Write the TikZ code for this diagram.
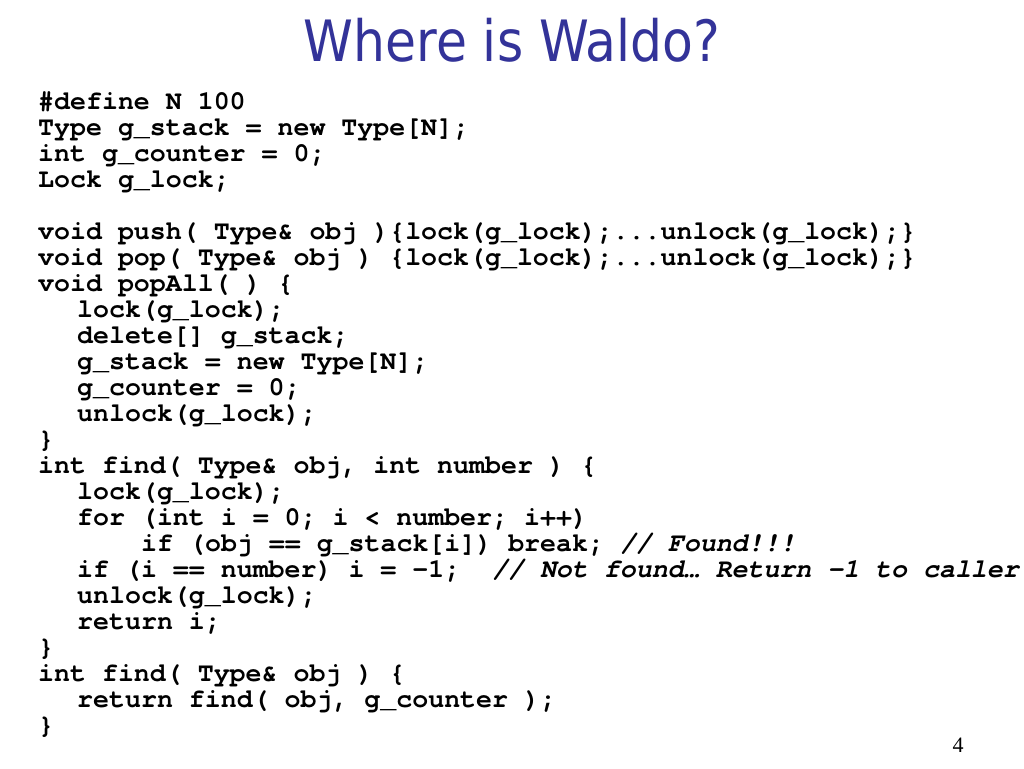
\documentclass[tikz,border=0pt]{standalone}
\usepackage{fontspec}
\newfontfamily\codefont[Ligatures={NoCommon}]{TeX Gyre Cursor}
\newfontfamily\titlefont{DejaVu Sans}
\newfontfamily\numfont{Liberation Serif}
\definecolor{titleblue}{RGB}{51,51,153}
\tikzset{
  code/.style={anchor=base west,inner sep=0pt,font=\codefont\bfseries\fontsize{26.6}{26.6}\selectfont},
  slidetitle/.style={anchor=base,inner sep=0pt,text=titleblue,font=\titlefont\fontsize{57}{57}\selectfont},
  pagenum/.style={anchor=base,inner sep=0pt,font=\numfont\fontsize{22}{22}\selectfont}
}
\begin{document}
\begin{tikzpicture}[x=1pt,y=-1pt]
\useasboundingbox[fill=white] (0,0) rectangle (1024,768);
\node[slidetitle] (title) at (512,62) {\scalebox{0.884}[1]{Where is Waldo?}};
\def\la{38}\def\lb{77}\def\lc{141}
\node[code] (l1) at (\la,109) {\#define N 100};
\node[code] (l2) at (\la,135) {Type g\_stack = new Type[N];};
\node[code] (l3) at (\la,161) {int g\_counter = 0;};
\node[code] (l4) at (\la,187) {Lock g\_lock;};
\node[code] (l5) at (\la,239) {void push( Type\& obj )\{lock(g\_lock);...unlock(g\_lock);\}};
\node[code] (l6) at (\la,265) {void pop( Type\& obj ) \{lock(g\_lock);...unlock(g\_lock);\}};
\node[code] (l7) at (\la,291) {void popAll( ) \{};
\node[code] (l8) at (\lb,317) {lock(g\_lock);};
\node[code] (l9) at (\lb,343) {delete[] g\_stack;};
\node[code] (l10) at (\lb,369) {g\_stack = new Type[N];};
\node[code] (l11) at (\lb,395) {g\_counter = 0;};
\node[code] (l12) at (\lb,421) {unlock(g\_lock);};
\node[code] (l13) at (\la,447) {\}};
\node[code] (l14) at (\la,473) {int find( Type\& obj, int number ) \{};
\node[code] (l15) at (\lb,499) {lock(g\_lock);};
\node[code] (l16) at (\lb,525) {for (int i = 0; i < number; i++)};
\node[code] (l17) at (\lc,551) {if (obj == g\_stack[i]) break; {\itshape // Found!!!}};
\node[code] (l18) at (\lb,577) {if (i == number) i = -1;\ \ {\itshape // Not found… Return -1 to caller}};
\node[code] (l19) at (\lb,603) {unlock(g\_lock);};
\node[code] (l20) at (\lb,629) {return i;};
\node[code] (l21) at (\la,655) {\}};
\node[code] (l22) at (\la,681) {int find( Type\& obj ) \{};
\node[code] (l23) at (\lb,707) {return find( obj, g\_counter );};
\node[code] (l24) at (\la,733) {\}};
\node[pagenum] (num) at (958,752) {4};
\end{tikzpicture}
\end{document}
